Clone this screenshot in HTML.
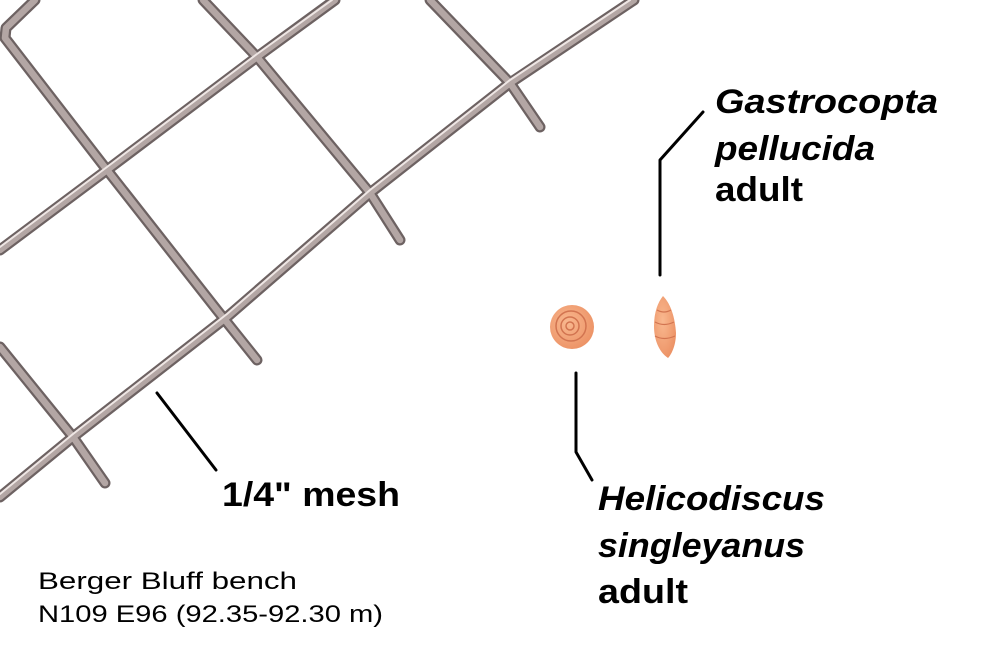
<!DOCTYPE html>
<html><head><meta charset="utf-8"><style>html,body{margin:0;padding:0;background:#fff}svg{display:block}</style></head>
<body>
<svg width="1000" height="668" viewBox="0 0 1000 668" xmlns="http://www.w3.org/2000/svg">
<defs>
<radialGradient id="sh" cx="0.4" cy="0.4" r="0.7"><stop offset="0" stop-color="#f9b88f"/><stop offset="1" stop-color="#eb8f62"/></radialGradient>
</defs>
<g fill="none" stroke-linecap="round" stroke-linejoin="round">
<g id="w" stroke="#6d6262" stroke-width="11">
<polyline points="35,0 6,28 5,38 107,170 217,310 257,360"/>
<polyline points="0,250 107,170 257,57 335,0"/>
<polyline points="0,497 73,437 227,317 370,193 510,83 634,0"/>
<polyline points="203,0 257,57 370,193 400,240"/>
<polyline points="430,0 510,83 540,127"/>
<polyline points="0,347 73,437 105,483"/>
</g>
<g stroke="#b3a6a4" stroke-width="6.5">
<polyline points="35,0 6,28 5,38 107,170 217,310 257,360"/>
<polyline points="0,250 107,170 257,57 335,0"/>
<polyline points="0,497 73,437 227,317 370,193 510,83 634,0"/>
<polyline points="203,0 257,57 370,193 400,240"/>
<polyline points="430,0 510,83 540,127"/>
<polyline points="0,347 73,437 105,483"/>
</g>
<g stroke="#eee6e4" stroke-width="2">
<polyline points="0,247 107,167 257,54 332,0"/>
<polyline points="0,494 73,434 227,314 370,190 510,80 630,0"/>
</g>
<g stroke="#000" stroke-width="3">
<polyline points="157,393 216,470"/>
<polyline points="576,373 576,452 592,480"/>
<polyline points="660,275 660,160 703,112"/>
</g>
</g>
<circle cx="572" cy="327" r="22" fill="url(#sh)"/>
<g fill="none" stroke="#d27450" stroke-width="1.5">
<circle cx="570" cy="326" r="4"/><circle cx="570" cy="326" r="9"/><circle cx="571" cy="326" r="15"/>
</g>
<path d="M663,296 C671,304 675,318 676,333 C676,346 671,355 668,358 C659,352 654,340 654,326 C654,312 658,302 663,296Z" fill="url(#sh)"/>
<g stroke="#d27450" stroke-width="1.2" fill="none">
<path d="M657,310 Q664,314 671,310"/><path d="M655,322 Q664,327 674,322"/><path d="M655,336 Q664,341 675,336"/>
</g>
<g font-family="Liberation Sans, sans-serif" font-weight="bold" fill="#000">
<text x="715" y="113" font-size="34" font-style="italic" textLength="223" lengthAdjust="spacingAndGlyphs">Gastrocopta</text>
<text x="715" y="160" font-size="34" font-style="italic" textLength="160" lengthAdjust="spacingAndGlyphs">pellucida</text>
<text x="715" y="201" font-size="34" textLength="88" lengthAdjust="spacingAndGlyphs">adult</text>
<text x="222" y="506" font-size="34" textLength="178" lengthAdjust="spacingAndGlyphs">1/4" mesh</text>
<text x="598" y="510" font-size="34" font-style="italic" textLength="227" lengthAdjust="spacingAndGlyphs">Helicodiscus</text>
<text x="598" y="557" font-size="34" font-style="italic" textLength="207" lengthAdjust="spacingAndGlyphs">singleyanus</text>
<text x="598" y="603" font-size="34" textLength="90" lengthAdjust="spacingAndGlyphs">adult</text>
</g>
<g font-family="Liberation Sans, sans-serif" fill="#000" font-size="24">
<text x="38" y="589" textLength="259" lengthAdjust="spacingAndGlyphs">Berger Bluff bench</text>
<text x="38" y="622" textLength="345" lengthAdjust="spacingAndGlyphs">N109 E96 (92.35-92.30 m)</text>
</g>
</svg>
</body></html>
